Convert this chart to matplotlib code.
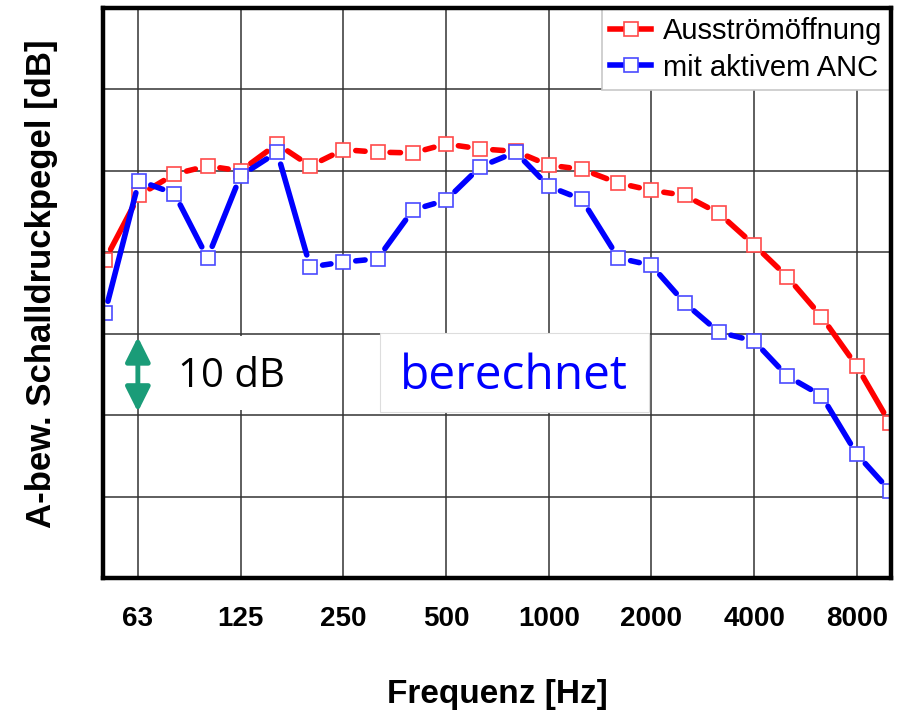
import matplotlib
matplotlib.use("Agg")
import matplotlib.pyplot as plt
from matplotlib.patches import FancyArrowPatch, Rectangle
from matplotlib.lines import Line2D

# Third-octave band centre frequencies [Hz]
freqs = [50, 63, 80, 100, 125, 160, 200, 250, 315, 400, 500, 630, 800,
         1000, 1250, 1600, 2000, 2500, 3150, 4000, 5000, 6300, 8000, 10000]

# A-weighted sound pressure level [dB] (relative scale, 10 dB per grid step)
outlet = [39.0, 47.0, 49.6, 50.6, 50.0, 53.3, 50.6, 52.6, 52.3, 52.2, 53.3, 52.7,
          52.4, 50.7, 50.2, 48.5, 47.6, 47.0, 44.8, 40.9, 37.0, 32.1, 26.0, 19.0]
anc_active = [32.5, 48.8, 47.2, 39.3, 49.4, 52.3, 38.2, 38.8, 39.2, 45.2, 46.4, 50.5,
              52.3, 48.1, 46.5, 39.3, 38.4, 33.8, 30.2, 29.1, 24.8, 22.4, 15.2, 10.7]

series_labels = ["Ausströmöffnung", "mit aktivem ANC"]
tick_freqs = [62.5, 125, 250, 500, 1000, 2000, 4000, 8000]
tick_labels = ["63", "125", "250", "500", "1000", "2000", "4000", "8000"]

W, H = 920, 714
fig = plt.figure(figsize=(W / 100, H / 100), dpi=100)
ax = fig.add_axes([103 / W, 1 - 578 / H, (891 - 103) / W, (578 - 8) / H])

ax.set_xscale("log")
ax.set_xlim(49.4, 10070)
ax.set_ylim(0, 70)

ax.minorticks_off()
ax.set_xticks(tick_freqs)
ax.set_xticklabels(tick_labels)
ax.set_yticks(range(10, 70, 10))
ax.set_yticklabels([])
ax.tick_params(axis="both", length=0)
ax.tick_params(axis="x", pad=20, labelsize=20)
for lab in ax.get_xticklabels():
    lab.set_fontweight("bold")
    lab.set_family("Liberation Sans")

ax.grid(True, color="#333333", linewidth=1.1, zorder=0)
ax.set_axisbelow(True)
for side in ["left", "bottom", "right", "top"]:
    ax.spines[side].set_linewidth(3.2)
    ax.spines[side].set_color("black")
    ax.spines[side].set_zorder(10)

LW = 4.0
MS = 9.6


def draw_series(y, color, edge, z):
    # segments stop short of the markers, leaving a small gap
    for i in range(len(freqs) - 1):
        seg = FancyArrowPatch((freqs[i], y[i]), (freqs[i + 1], y[i + 1]),
                              arrowstyle="-", shrinkA=9, shrinkB=9,
                              color=color, linewidth=LW, capstyle="round",
                              zorder=z)
        ax.add_patch(seg)
    ax.plot(freqs, y, linestyle="none", marker="s", markersize=MS,
            markerfacecolor="white", markeredgecolor=edge,
            markeredgewidth=1.2, zorder=z + 0.5)


draw_series(outlet, "#ff0000", "#ff4a4a", 3)
draw_series(anc_active, "#0000ff", "#4a4aff", 4)

# legend proxies
h1 = Line2D([], [], color="#ff0000", linewidth=LW, marker="s", markersize=MS,
            markerfacecolor="white", markeredgecolor="#ff4a4a", markeredgewidth=1.2)
h2 = Line2D([], [], color="#0000ff", linewidth=LW, marker="s", markersize=MS,
            markerfacecolor="white", markeredgecolor="#4a4aff", markeredgewidth=1.2)
leg = ax.legend([h1, h2], series_labels, loc="upper right", bbox_to_anchor=(1, 1),
                borderaxespad=0, frameon=True, fancybox=False, framealpha=1,
                edgecolor="#c8c8c8", prop={"family": "Liberation Sans", "size": 21},
                handlelength=1.4, handletextpad=0.4, borderpad=0.3,
                labelspacing=0.3)
leg.get_frame().set_linewidth(1.2)
leg.set_zorder(8)

# white boxes behind the annotation texts
ax.add_patch(Rectangle((72.5, 20.6), 227 - 72.5, 29.7 - 20.6, facecolor="white",
                       edgecolor="none", zorder=1))
ax.add_patch(Rectangle((321, 20.4), 1973 - 321, 30.05 - 20.4, facecolor="white",
                       edgecolor="#dddddd", linewidth=0.8, zorder=1))

# 10 dB scale marker
arrow = FancyArrowPatch((62.5, 29.6), (62.5, 20.4),
                        arrowstyle="<|-|>,head_length=1.5,head_width=0.75",
                        mutation_scale=10, shrinkA=0, shrinkB=0,
                        color="#1a9c78", linewidth=3.5, zorder=6)
ax.add_patch(arrow)
ax.text(82, 24.7, "10 dB", family="Open Sans", fontsize=29, color="black",
        ha="left", va="center", zorder=6)
ax.text(367, 24.8, "berechnet", family="Open Sans", fontsize=34.5, color="#0000ff",
        ha="left", va="center", zorder=6)

fig.text(42 / W, 1 - 284 / H, "A-bew. Schalldruckpegel [dB]", rotation=90,
         ha="center", va="center", fontsize=25, fontweight="bold",
         family="Liberation Sans")
fig.text(497 / W, 1 - 694 / H, "Frequenz [Hz]", ha="center", va="center",
         fontsize=24, fontweight="bold", family="Liberation Sans")

fig.savefig("out.png", dpi=100, facecolor="white")
